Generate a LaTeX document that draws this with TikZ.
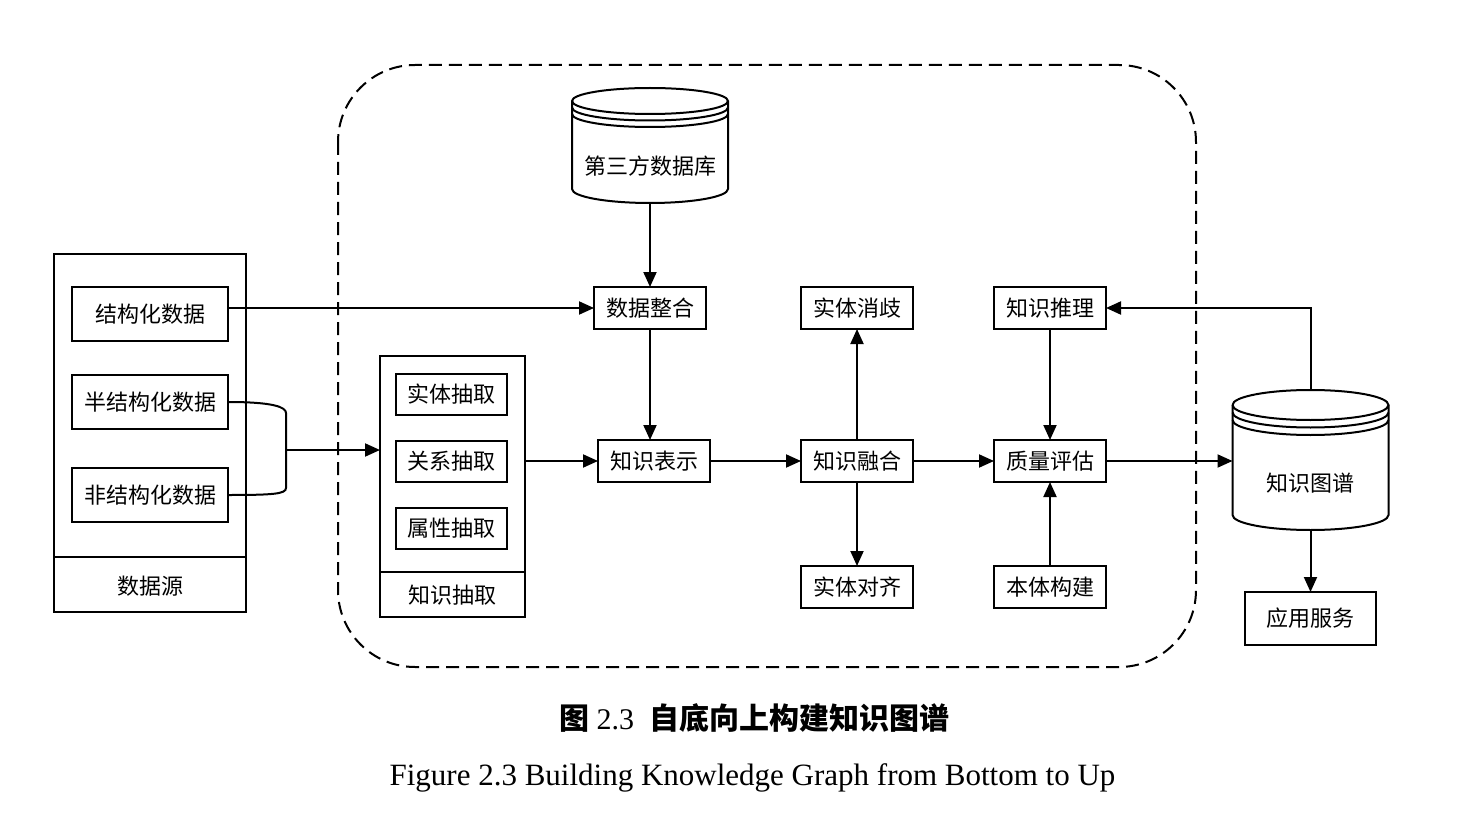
\documentclass[tikz,border=0pt]{standalone}
\usepackage{fontspec}
\setmainfont{Liberation Serif}
\newfontfamily\cjk{Noto Sans CJK SC}
\usetikzlibrary{calc, arrows.meta, positioning}

\tikzset{
    link/.style = {line width=2pt},
    flow/.style = {line width=2pt, -{Triangle[length=15pt, width=13pt]}},
    frame/.style = {draw, line width=2pt, inner sep=0pt, outer sep=0pt},
    blk/.style = {frame, minimum width=112pt, minimum height=42pt, font=\cjk\fontsize{22}{26}\selectfont},
    txt/.style = {inner sep=0pt, font=\cjk\fontsize{22}{26}\selectfont},
}

\begin{document}
\begin{tikzpicture}[x=1pt, y=1pt]
\def\dbR{78}

    \useasboundingbox (0,0) rectangle (1468,-840);

    % dashed region
    \draw[link, dash pattern=on 13pt off 7pt, rounded corners=77pt] (338,-65) rectangle (1196,-667);

    % data sources
    \node[frame, minimum width=192pt, minimum height=358pt] (src) at (150,-433) {};
    \coordinate (srcCut) at (150,-557);
    \draw[link] (src.west |- srcCut) -- (src.east |- srcCut);
    \node[txt] (srcLbl) at (150,-586) {数据源};
    \node[blk, minimum width=156pt, minimum height=54pt] (struct) at (150,-314) {结构化数据};
    \node[blk, minimum width=156pt, minimum height=54pt] (semi) at (150,-402) {半结构化数据};
    \node[blk, minimum width=156pt, minimum height=54pt] (unstr) at (150,-495) {非结构化数据};

    % knowledge extraction
    \node[frame, minimum width=145pt, minimum height=261pt] (ext) at (452.5,-486.5) {};
    \coordinate (extCut) at (452,-572);
    \draw[link] (ext.west |- extCut) -- (ext.east |- extCut);
    \node[txt] (extLbl) at (452,-595) {知识抽取};
    \node[blk, minimum width=111pt, minimum height=41pt] (ent) at (451,-394) {实体抽取};
    \node[blk, minimum width=111pt, minimum height=41pt] (rel) at (451,-461) {关系抽取};
    \node[blk, minimum width=111pt, minimum height=41pt] (attr) at (451,-528) {属性抽取};

    % third party database
    \node[minimum width=156pt, minimum height=115pt, inner sep=0pt, outer sep=0pt] (third) at (650,-145.5) {};
    \draw[link] ($(third.north west)+(0,-13)$) -- ($(third.south west)+(0,14)$)
        arc[start angle=180, end angle=360, x radius=\dbR, y radius=14]
        -- ($(third.north east)+(0,-13)$) arc[start angle=0, end angle=180, x radius=\dbR, y radius=13];
    \foreach \d in {0,6.5,13}
        \draw[link] ($(third.north west)+(0,-13-\d)$) arc[start angle=180, end angle=360, x radius=\dbR, y radius=13];
    \node[txt] (thirdLbl) at (650,-166) {第三方数据库};

    % processing steps
    \node[blk] (integ) at (650,-308) {数据整合};
    \node[blk] (repr) at (654,-461) {知识表示};
    \node[blk] (disamb) at (857,-308) {实体消歧};
    \node[blk] (fusion) at (857,-461) {知识融合};
    \node[blk] (align) at (857,-587) {实体对齐};
    \node[blk] (infer) at (1050,-308) {知识推理};
    \node[blk] (quality) at (1050,-461) {质量评估};
    \node[blk] (onto) at (1050,-587) {本体构建};

    % knowledge graph store
    \node[minimum width=156pt, minimum height=140pt, inner sep=0pt, outer sep=0pt] (kg) at (1310.5,-460) {};
    \draw[link] ($(kg.north west)+(0,-15)$) -- ($(kg.south west)+(0,15)$)
        arc[start angle=180, end angle=360, x radius=\dbR, y radius=15]
        -- ($(kg.north east)+(0,-15)$) arc[start angle=0, end angle=180, x radius=\dbR, y radius=15];
    \foreach \d in {0,7.5,15}
        \draw[link] ($(kg.north west)+(0,-15-\d)$) arc[start angle=180, end angle=360, x radius=\dbR, y radius=15];
    \node[txt] (kgLbl) at (1310,-483) {知识图谱};
    \node[blk, minimum width=131pt, minimum height=53pt] (app) at (1310.5,-618.5) {应用服务};

    % connectors
    \draw[flow] (struct.east |- integ) -- (integ.west);
    \coordinate (brk) at (286,-450);
    \coordinate (brkTop) at (286,-413);
    \coordinate (brkBot) at (286,-488);
    \draw[link] (semi.east) .. controls +(45,0) and +(0,6) .. (brkTop) -- (brkBot)
        .. controls +(0,-6) and +(45,0) .. (unstr.east);
    \draw[flow] (brk) -- (ext.west |- brk);
    \draw[flow] (third.south) -- (integ.north);
    \draw[flow] (integ.south) -- (integ.south |- repr.north);
    \draw[flow] (ext.east |- repr) -- (repr.west);
    \draw[flow] (repr.east) -- (fusion.west);
    \draw[flow] (fusion.north) -- (disamb.south);
    \draw[flow] (fusion.south) -- (align.north);
    \draw[flow] (fusion.east) -- (quality.west);
    \draw[flow] (infer.south) -- (quality.north);
    \draw[flow] (onto.north) -- (quality.south);
    \draw[flow] (quality.east) -- (kg.west |- quality);
    \draw[flow] (kg.north) |- (infer.east);
    \draw[flow] (kg.south) -- (app.north);

    %Caption
    \node[font=\fontsize{30}{34}\selectfont] (capCn) at (754,-718) {{\cjk\bfseries 图} 2.3\ \ {\cjk\bfseries 自底向上构建知识图谱}};
    \node[anchor=base, inner sep=0pt, font=\fontsize{31}{36}\selectfont] (capEn) at (752.5,-785) {Figure 2.3 Building Knowledge Graph from Bottom to Up};
\end{tikzpicture}
\end{document}
